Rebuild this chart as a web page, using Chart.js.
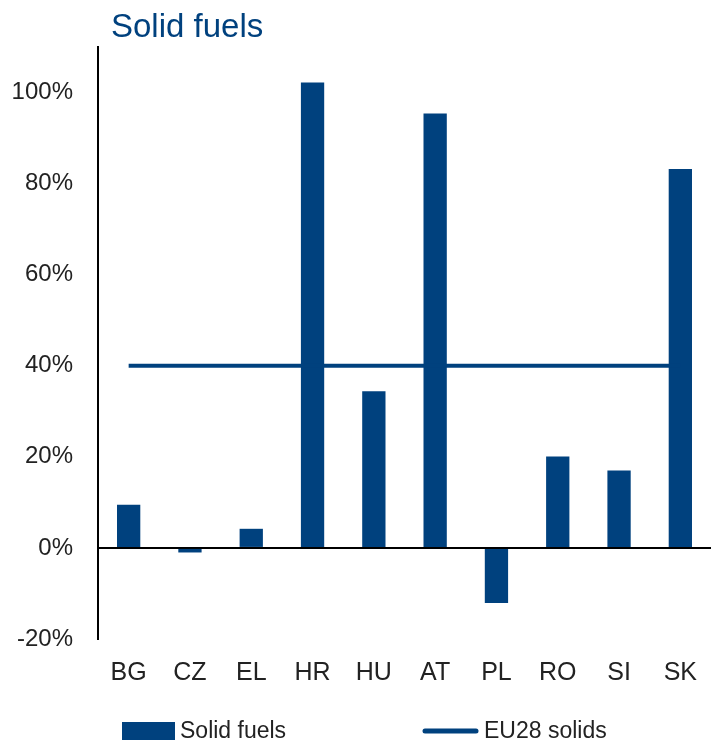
<!DOCTYPE html>
<html>
<head>
    <title>Solid fuels</title>
    <script src="https://cdn.jsdelivr.net/npm/chart.js"></script>
    <style>
        body { margin:0; background:#fff; }
        #wrap { position:relative; width:711px; height:744px; }
    </style>
</head>
<body>
<div id="wrap">
    <canvas id="fuelChart" width="711" height="744"></canvas>
</div>
<script>
const countries = ['BG','CZ','EL','HR','HU','AT','PL','RO','SI','SK'];
const solidFuels = [9.5, -1.0, 4.2, 102.2, 34.4, 95.4, -12.1, 20.1, 17.0, 83.2];
const eu28Solids = [40, 40, 40, 40, 40, 40, 40, 40, 40, 40];
const yTicks = [-20, 0, 20, 40, 60, 80, 100];

const blue = '#00417e';
const font = 'Liberation Sans, Arial, sans-serif';

// title + bottom legend drawn straight onto the canvas
const extras = {
  id: 'extras',
  afterDraw(chart){
    const ctx = chart.ctx;
    const ds = chart.data.datasets;
    const bar = ds.find(d => d.type === 'bar');
    const line = ds.find(d => d.type === 'line');
    ctx.save();
    ctx.fillStyle = blue;
    ctx.font = '33px ' + font;
    ctx.textBaseline = 'alphabetic';
    ctx.fillText('Solid fuels', 111, 37);

    ctx.font = '23px ' + font;
    ctx.textBaseline = 'middle';
    ctx.fillStyle = bar.backgroundColor;
    ctx.fillRect(122, 722, 53, 18);
    ctx.fillStyle = '#222';
    ctx.fillText(bar.label, 180, 732);

    ctx.strokeStyle = line.borderColor;
    ctx.lineWidth = 5;
    ctx.lineCap = 'round';
    ctx.beginPath();
    ctx.moveTo(425, 731);
    ctx.lineTo(476, 731);
    ctx.stroke();
    ctx.fillText(line.label, 484, 732);
    ctx.restore();
  }
};

new Chart(document.getElementById('fuelChart'), {
  data: {
    labels: countries,
    datasets: [
      {type:'line', label:'EU28 solids', data:eu28Solids, borderColor:blue, borderWidth:4,
       pointRadius:0, fill:false, order:0},
      {type:'bar', label:'Solid fuels', data:solidFuels, backgroundColor:blue,
       categoryPercentage:1, barPercentage:0.38, order:1}
    ]
  },
  options: {
    responsive:false,
    animation:false,
    devicePixelRatio:1,
    layout:{padding:{top:47, left:11, right:0, bottom:45}},
    plugins:{legend:{display:false}, tooltip:{enabled:false}},
    scales:{
      x:{
        grid:{display:false},
        border:{display:false},
        ticks:{color:'#222', font:{family:font, size:25}, padding:11}
      },
      y:{
        min:-20, max:110,
        afterBuildTicks: s => { s.ticks = yTicks.map(v => ({value:v})); },
        afterFit: s => { s.width = 87; },
        grid:{
          drawTicks:false,
          lineWidth:2,
          color: c => c.tick && c.tick.value === 0 ? '#000' : 'rgba(0,0,0,0)'
        },
        border:{display:true, color:'#000', width:2},
        ticks:{color:'#222', font:{family:font, size:24}, padding:25,
               callback: v => v + '%'}
      }
    }
  },
  plugins:[extras]
});
</script>
</body>
</html>
